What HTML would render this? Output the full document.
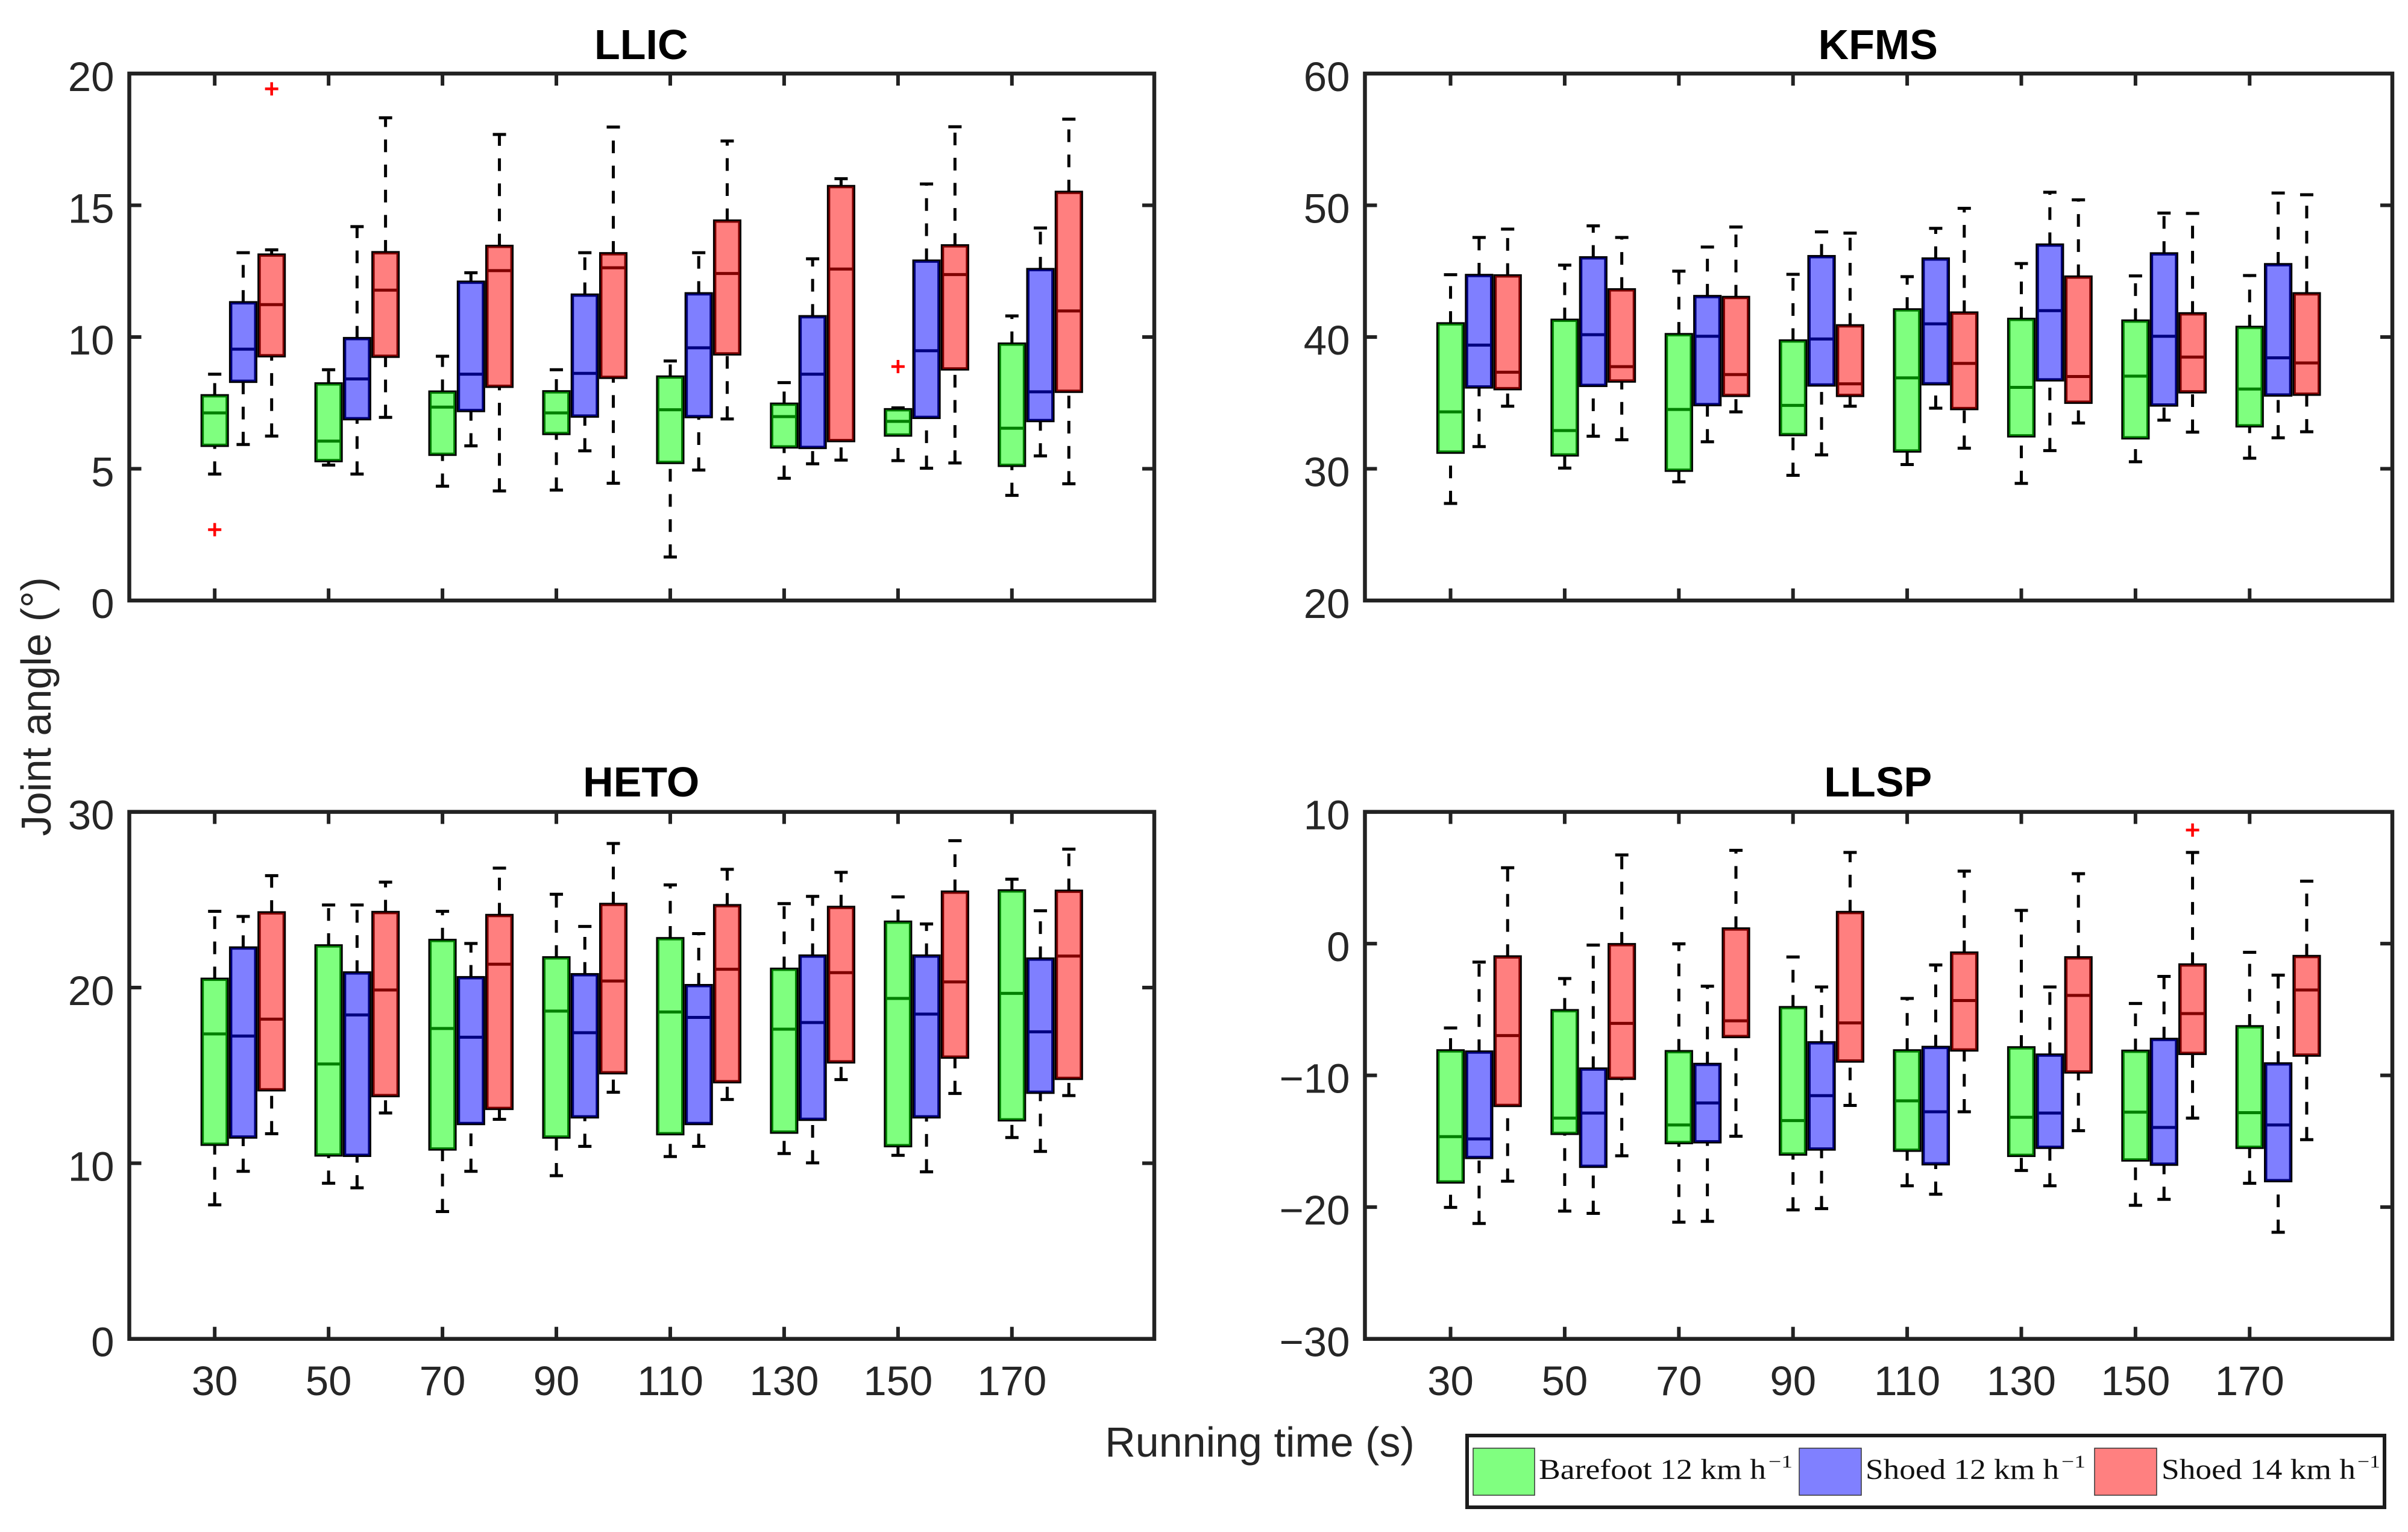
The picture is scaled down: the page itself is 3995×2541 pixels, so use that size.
<!DOCTYPE html>
<html lang="en">
<head>
<meta charset="utf-8">
<title>Joint angle vs running time box plots</title>
<style>
html,body{margin:0;padding:0;background:#fff;width:3995px;height:2541px;overflow:hidden}
svg{display:block}
text{font-family:"Liberation Sans",Arial,sans-serif;fill:#262626}
.serif{font-family:"Liberation Serif",serif;fill:#111}
</style>
</head>
<body>
<svg id="chart" xmlns="http://www.w3.org/2000/svg" width="3995" height="2541" viewBox="0 0 3995 2541">
  <rect x="0" y="0" width="3995" height="2541" fill="#fff"/>
  <text transform="translate(84,1172) rotate(-90)" text-anchor="middle" font-size="69.5">Joint angle (°)</text>
  <text x="2090" y="2416" text-anchor="middle" font-size="70">Running time (s)</text>

  <g>
    <rect x="2434" y="2381" width="1522" height="119" fill="#fff" stroke="#1c1c1c" stroke-width="6"/>
    <rect x="2444" y="2402" width="102" height="78" fill="#80ff80" stroke="#333" stroke-width="1.5"/>
    <text class="serif" x="2553" y="2453" font-size="48" textLength="377" lengthAdjust="spacingAndGlyphs">Barefoot 12 km h</text>
    <text class="serif" x="2934" y="2434" font-size="30" textLength="40" lengthAdjust="spacingAndGlyphs">−1</text>
    <rect x="2985" y="2402" width="103" height="78" fill="#8080ff" stroke="#333" stroke-width="1.5"/>
    <text class="serif" x="3095" y="2453" font-size="48" textLength="321" lengthAdjust="spacingAndGlyphs">Shoed 12 km h</text>
    <text class="serif" x="3420" y="2434" font-size="30" textLength="40" lengthAdjust="spacingAndGlyphs">−1</text>
    <rect x="3475" y="2402" width="103" height="78" fill="#ff8080" stroke="#333" stroke-width="1.5"/>
    <text class="serif" x="3586" y="2453" font-size="48" textLength="322" lengthAdjust="spacingAndGlyphs">Shoed 14 km h</text>
    <text class="serif" x="3911" y="2434" font-size="30" textLength="38" lengthAdjust="spacingAndGlyphs">−1</text>
  </g>
</svg>
<script>
// Shared categories and series
const runningTimes = [30, 50, 70, 90, 110, 130, 150, 170];
const timeTickLabels = ['30', '50', '70', '90', '110', '130', '150', '170'];
const seriesNames = ['barefoot-12', 'shoed-12', 'shoed-14'];
const seriesOffsetSeconds = [0, 5, 10];

// Each row: [lower whisker, Q1, median, Q3, upper whisker], one row per running time
const llicBarefoot = [
  [4.80, 5.89, 7.12, 7.77, 8.59], [5.14, 5.31, 6.05, 8.22, 8.76], [4.34, 5.55, 7.34, 7.91, 9.27], [4.19, 6.34, 7.12, 7.92, 8.76],
  [1.65, 5.24, 7.24, 8.48, 9.09], [4.64, 5.83, 6.98, 7.45, 8.27], [5.31, 6.28, 6.80, 7.24, 7.31], [3.99, 5.13, 6.54, 9.73, 10.8]];
const llicShoed12 = [
  [5.92, 8.32, 9.54, 11.3, 13.2], [4.80, 6.90, 8.41, 9.94, 14.19], [5.87, 7.21, 8.59, 12.08, 12.44], [5.68, 7.00, 8.62, 11.59, 13.2],
  [4.95, 6.98, 9.59, 11.64, 13.2], [5.19, 5.81, 8.59, 10.77, 12.97], [5.02, 6.95, 9.48, 12.88, 15.81], [5.49, 6.83, 7.92, 12.56, 14.14]];
const llicShoed14 = [
  [6.24, 9.29, 11.23, 13.11, 13.31], [6.95, 9.27, 11.78, 13.2, 18.32], [4.16, 8.13, 12.52, 13.44, 17.69], [4.45, 8.47, 12.63, 13.16, 17.97],
  [6.89, 9.36, 12.41, 14.4, 17.44], [5.33, 6.07, 12.58, 15.71, 16.01], [5.22, 8.79, 12.37, 13.46, 17.98], [4.43, 7.94, 10.99, 15.49, 18.27]];
const llicOutlierTimes = [30, 30, 150];
const llicOutlierSeries = [0, 2, 0];
const llicOutlierValues = [2.69, 19.42, 8.88];

const kfmsBarefoot = [
  [27.37, 31.26, 34.32, 41.0, 44.73], [30.05, 31.05, 32.9, 41.27, 45.46], [29.01, 29.89, 34.5, 40.18, 45.0], [29.5, 32.6, 34.81, 39.7, 44.76],
  [30.32, 31.35, 36.9, 42.06, 44.58], [28.89, 32.5, 36.18, 41.34, 45.58], [30.53, 32.35, 37.03, 41.21, 44.64], [30.8, 33.26, 36.05, 40.73, 44.67]];
const kfmsShoed12 = [
  [31.68, 36.21, 39.39, 44.67, 47.56], [32.47, 36.33, 40.18, 46.01, 48.44], [32.05, 34.87, 40.06, 43.07, 46.83], [31.05, 36.36, 39.85, 46.1, 47.98],
  [34.6, 36.45, 41.0, 45.92, 48.25], [31.38, 36.75, 42.0, 46.98, 50.99], [33.69, 34.84, 40.06, 46.31, 49.41], [32.35, 35.6, 38.42, 45.49, 50.93]];
const kfmsShoed14 = [
  [34.75, 36.08, 37.33, 44.64, 48.19], [32.2, 36.66, 37.75, 43.58, 47.56], [34.32, 35.57, 37.15, 43.0, 48.35], [34.75, 35.57, 36.45, 40.85, 47.89],
  [31.56, 34.57, 38.0, 41.82, 49.77], [33.47, 35.05, 37.0, 44.55, 50.41], [32.78, 35.84, 38.48, 41.76, 49.38], [32.81, 35.66, 38.03, 43.28, 50.8]];
const kfmsOutlierTimes = [];
const kfmsOutlierSeries = [];
const kfmsOutlierValues = [];

const hetoBarefoot = [
  [7.63, 11.08, 17.36, 20.47, 24.34], [8.86, 10.47, 15.65, 22.37, 24.7], [7.25, 10.81, 17.67, 22.68, 24.34], [9.29, 11.49, 18.66, 21.69, 25.31],
  [10.38, 11.68, 18.61, 22.78, 25.84], [10.55, 11.77, 17.63, 21.04, 24.78], [10.45, 11.0, 19.38, 23.72, 25.16], [11.46, 12.47, 19.67, 25.5, 26.17]];
const hetoShoed12 = [
  [9.54, 11.49, 17.24, 22.25, 24.05], [8.6, 10.45, 18.44, 20.83, 24.7], [9.54, 12.26, 17.17, 20.56, 22.51], [10.96, 12.64, 17.43, 20.73, 23.48],
  [10.96, 12.26, 18.3, 20.11, 23.07], [10.02, 12.5, 18.01, 21.79, 25.19], [9.51, 12.64, 18.49, 21.79, 23.62], [10.67, 14.04, 17.48, 21.62, 24.37]];
const hetoShoed14 = [
  [11.68, 14.18, 18.2, 24.25, 26.37], [12.86, 13.85, 19.86, 24.27, 26.0], [12.5, 13.12, 21.33, 24.1, 26.8], [14.04, 15.15, 20.37, 24.73, 28.2],
  [13.63, 14.64, 21.04, 24.66, 26.73], [14.76, 15.77, 20.85, 24.56, 26.56], [13.97, 16.04, 20.32, 25.43, 28.36], [13.85, 14.83, 21.79, 25.48, 27.88]];
const hetoOutlierTimes = [];
const hetoOutlierSeries = [];
const hetoOutlierValues = [];

const llspBarefoot = [
  [-20.02, -18.09, -14.65, -8.14, -6.4], [-20.3, -14.4, -13.24, -5.09, -2.65], [-21.14, -15.1, -13.76, -8.2, -0.02], [-20.21, -15.97, -13.43, -4.86, -1.01],
  [-18.38, -15.68, -11.93, -8.14, -4.16], [-17.22, -16.07, -13.18, -7.91, 2.52], [-19.86, -16.42, -12.79, -8.17, -4.54], [-18.19, -15.46, -12.83, -6.31, -0.66]];
const llspShoed12 = [
  [-21.24, -16.23, -14.82, -8.23, -1.4], [-20.47, -16.9, -12.86, -9.52, -0.11], [-21.08, -15.04, -12.09, -9.17, -3.23], [-20.11, -15.59, -11.54, -7.53, -3.29],
  [-19.02, -16.71, -12.76, -7.88, -1.62], [-18.38, -15.46, -12.86, -8.46, -3.29], [-19.41, -16.74, -13.95, -7.27, -2.49], [-21.91, -17.99, -13.76, -9.13, -2.39]];
const llspShoed14 = [
  [-18.03, -12.28, -6.98, -1.01, 5.76], [-16.1, -10.22, -6.05, -0.08, 6.73], [-14.62, -7.05, -5.86, 1.11, 7.08], [-12.28, -8.91, -6.02, 2.36, 6.92],
  [-12.76, -8.07, -4.32, -0.72, 5.5], [-14.2, -9.74, -3.93, -1.08, 5.31], [-13.24, -8.33, -5.31, -1.62, 6.92], [-14.88, -8.46, -3.52, -0.98, 4.74]];
const llspOutlierTimes = [150];
const llspOutlierSeries = [2];
const llspOutlierValues = [8.62];

// Y tick values
const llicYTicks = [0, 5, 10, 15, 20];
const kfmsYTicks = [20, 30, 40, 50, 60];
const hetoYTicks = [0, 10, 20, 30];
const llspYTicks = [-30, -20, -10, 0, 10];

const xDomain = [15, 195];
const boxWidthSeconds = 4.4;
const tickLength = 20;
const fillColors = ['#00ff00', '#0000ff', '#ff0000'];

const panels = [
  { id: 'llic', title: 'LLIC', left: 214.5, right: 1915, top: 122, bottom: 996, yMin: 0, yMax: 20, yTicks: llicYTicks, series: [llicBarefoot, llicShoed12, llicShoed14], oT: llicOutlierTimes, oS: llicOutlierSeries, oV: llicOutlierValues, showX: false, titleY: 98 },
  { id: 'kfms', title: 'KFMS', left: 2264.5, right: 3969, top: 122, bottom: 996, yMin: 20, yMax: 60, yTicks: kfmsYTicks, series: [kfmsBarefoot, kfmsShoed12, kfmsShoed14], oT: kfmsOutlierTimes, oS: kfmsOutlierSeries, oV: kfmsOutlierValues, showX: false, titleY: 98 },
  { id: 'heto', title: 'HETO', left: 214.5, right: 1915, top: 1346.6, bottom: 2220.7, yMin: 0, yMax: 30, yTicks: hetoYTicks, series: [hetoBarefoot, hetoShoed12, hetoShoed14], oT: hetoOutlierTimes, oS: hetoOutlierSeries, oV: hetoOutlierValues, showX: true, titleY: 1321 },
  { id: 'llsp', title: 'LLSP', left: 2264.5, right: 3969, top: 1346.6, bottom: 2220.7, yMin: -30, yMax: 10, yTicks: llspYTicks, series: [llspBarefoot, llspShoed12, llspShoed14], oT: llspOutlierTimes, oS: llspOutlierSeries, oV: llspOutlierValues, showX: true, titleY: 1321 }
];

const NS = 'http://www.w3.org/2000/svg';
const svg = document.getElementById('chart');

function make(tag, attrs, parent) {
  const el = document.createElementNS(NS, tag);
  for (const k in attrs) el.setAttribute(k, attrs[k]);
  parent.appendChild(el);
  return el;
}
function xScale(p, v) { return p.left + (v - xDomain[0]) / (xDomain[1] - xDomain[0]) * (p.right - p.left); }
function yScale(p, v) { return p.bottom - (v - p.yMin) / (p.yMax - p.yMin) * (p.bottom - p.top); }
function fmt(v) { return v < 0 ? '\u2212' + Math.abs(v) : String(v); }

panels.forEach(function (p) {
  const g = make('g', {}, svg);
  
  

  const title = make('text', { x: (p.left + p.right) / 2 - 1, y: p.titleY, 'text-anchor': 'middle', 'font-size': 70, 'font-weight': 'bold', style: 'fill:#000' }, g);
  title.textContent = p.title;
  
  

  // Boxes
  p.series.forEach(function (rows, s) {
    rows.forEach(function (row, i) {
      const cx = xScale(p, runningTimes[i] + seriesOffsetSeconds[s]);
      const half = (xScale(p, boxWidthSeconds) - xScale(p, 0)) / 2;
      const capHalf = 11;
      const box = make('g', {}, g);
      
      

      const yLow = yScale(p, row[0]);
      const yQ1 = yScale(p, row[1]);
      const yMed = yScale(p, row[2]);
      const yQ3 = yScale(p, row[3]);
      const yHigh = yScale(p, row[4]);

      const lowerWhisker = make('line', { x1: cx, x2: cx, y1: yLow, y2: yQ1, stroke: '#000', 'stroke-width': 5, 'stroke-dasharray': '21 20.7' }, box);
      
      

      const upperWhisker = make('line', { x1: cx, x2: cx, y1: yQ3, y2: yHigh, stroke: '#000', 'stroke-width': 5, 'stroke-dasharray': '21 20.7' }, box);
      
      

      const lowerCap = make('line', { x1: cx - capHalf, x2: cx + capHalf, y1: yLow, y2: yLow, stroke: '#000', 'stroke-width': 5 }, box);
      
      

      const upperCap = make('line', { x1: cx - capHalf, x2: cx + capHalf, y1: yHigh, y2: yHigh, stroke: '#000', 'stroke-width': 5 }, box);
      
      

      const outline = make('rect', { x: cx - half, y: yQ3, width: half * 2, height: yQ1 - yQ3, fill: '#fff', stroke: '#000', 'stroke-width': 5.5 }, box);
      
      

      const median = make('line', { x1: cx - half, x2: cx + half, y1: yMed, y2: yMed, stroke: '#000', 'stroke-width': 5 }, box);
      
      

      const patch = make('rect', { x: cx - half, y: yQ3, width: half * 2, height: yQ1 - yQ3, fill: fillColors[s], 'fill-opacity': 0.5 }, box);
      
      
    });
  });

  // Outliers
  p.oV.forEach(function (v, k) {
    const cx = xScale(p, p.oT[k] + seriesOffsetSeconds[p.oS[k]]);
    const cy = yScale(p, v);
    const mark = make('path', { d: 'M' + (cx - 11) + ' ' + cy + 'H' + (cx + 11) + 'M' + cx + ' ' + (cy - 11) + 'V' + (cy + 11), stroke: '#ff0000', 'stroke-width': 4.5, fill: 'none' }, g);
    
    
  });

  // Axes frame
  const frame = make('rect', { x: p.left, y: p.top, width: p.right - p.left, height: p.bottom - p.top, fill: 'none', stroke: '#222', 'stroke-width': 6.5 }, g);
  
  

  // X ticks
  runningTimes.forEach(function (t, i) {
    const x = xScale(p, t);
    const tickB = make('line', { x1: x, x2: x, y1: p.bottom, y2: p.bottom - tickLength, stroke: '#222', 'stroke-width': 6 }, g);
    
    
    const tickT = make('line', { x1: x, x2: x, y1: p.top, y2: p.top + tickLength, stroke: '#222', 'stroke-width': 6 }, g);
    
    
    if (p.showX) {
      const lab = make('text', { x: x, y: 2314, 'text-anchor': 'middle', 'font-size': 69 }, g);
      lab.textContent = timeTickLabels[i];
      
      
    }
  });

  // Y ticks
  p.yTicks.forEach(function (v) {
    const y = yScale(p, v);
    const tickL = make('line', { x1: p.left, x2: p.left + tickLength, y1: y, y2: y, stroke: '#222', 'stroke-width': 6 }, g);
    
    
    const tickR = make('line', { x1: p.right, x2: p.right - tickLength, y1: y, y2: y, stroke: '#222', 'stroke-width': 6 }, g);
    
    
    const lab = make('text', { x: p.left - 25, y: y + 29, 'text-anchor': 'end', 'font-size': 69 }, g);
    lab.textContent = fmt(v);
    
    
  });
});
</script>
</body>
</html>
